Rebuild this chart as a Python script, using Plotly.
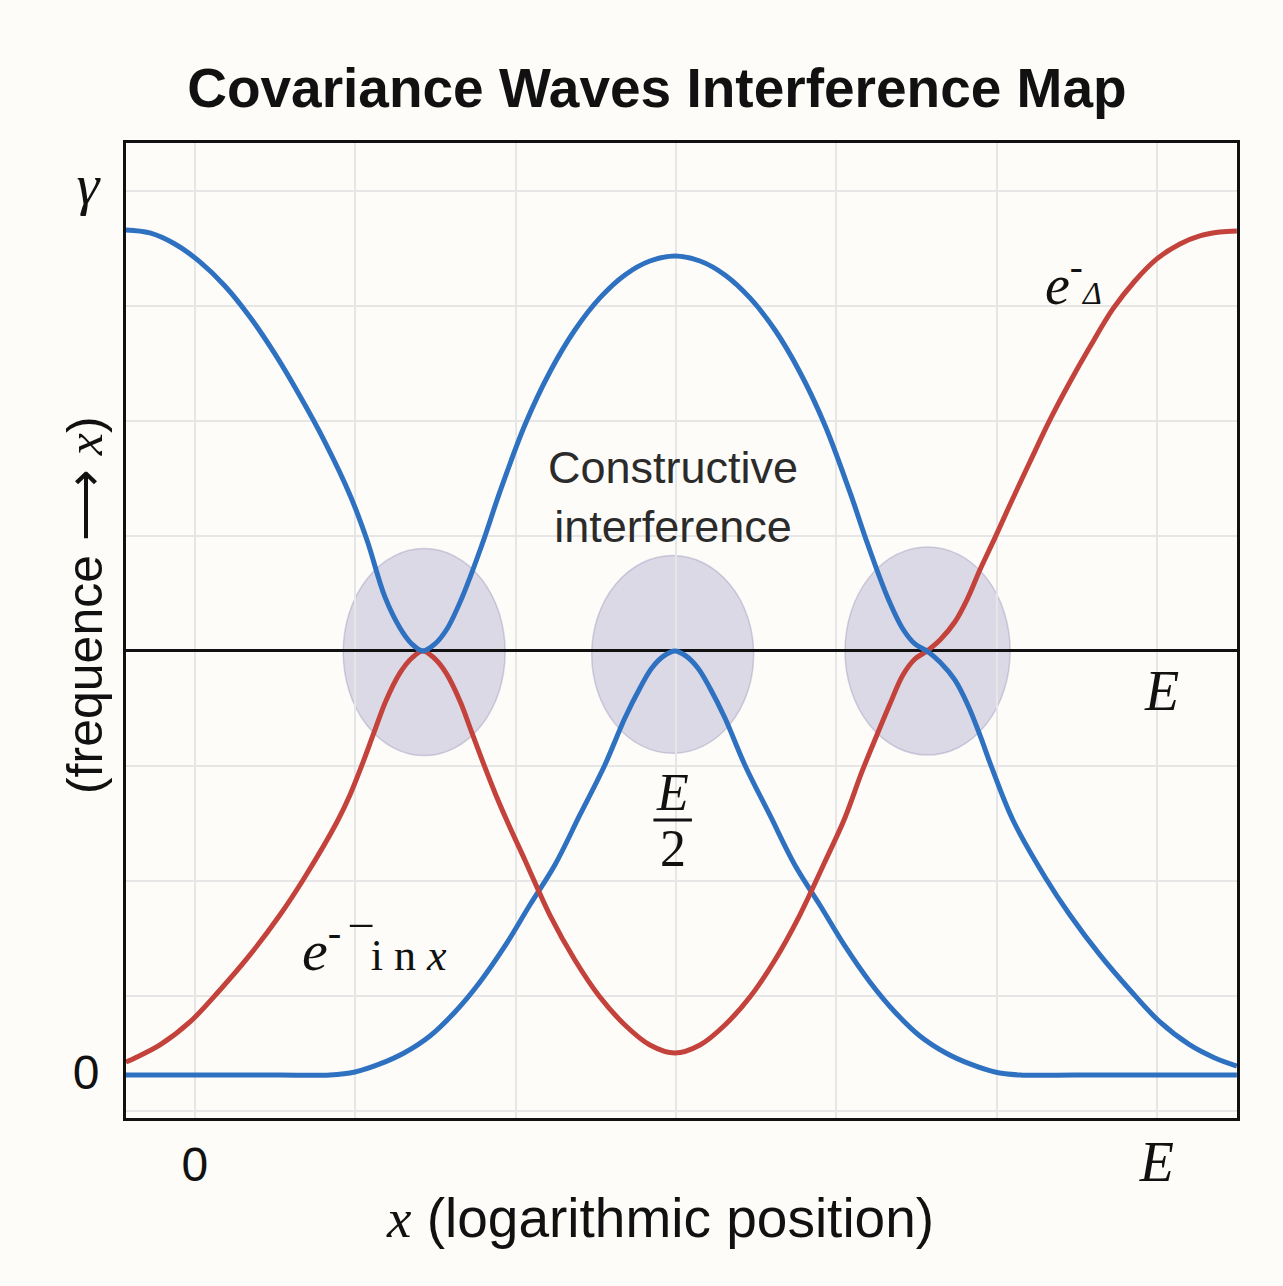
import plotly.graph_objects as go

# ---------------- data ----------------
blue_wave_x = [-0.430, -0.281, -0.125, 0.031, 0.187, 0.343, 0.499, 0.655, 0.811, 0.967,
               1.073, 1.185, 1.279, 1.353, 1.422, 1.497, 1.572, 1.665, 1.790, 1.902,
               2.058, 2.214, 2.370, 2.526, 2.682, 2.838, 2.994, 3.150, 3.306, 3.462,
               3.618, 3.773, 3.929, 4.085, 4.198, 4.322, 4.416, 4.491, 4.566, 4.647,
               4.740, 4.821, 4.896, 4.971, 5.102, 5.302, 5.458, 5.645, 5.832, 6.019,
               6.206, 6.362, 6.499]
blue_wave_y = [3.661, 3.635, 3.539, 3.383, 3.174, 2.904, 2.583, 2.217, 1.817, 1.357,
               0.965, 0.470, 0.200, 0.061, 0.000, 0.061, 0.191, 0.461, 0.922, 1.383,
               1.965, 2.426, 2.791, 3.070, 3.270, 3.391, 3.435, 3.391, 3.270, 3.070,
               2.791, 2.426, 1.965, 1.383, 0.922, 0.461, 0.191, 0.061, 0.000, -0.096,
               -0.252, -0.470, -0.730, -1.017, -1.470, -1.965, -2.296, -2.643, -2.948, -3.226,
               -3.426, -3.539, -3.609]

red_wave_x = [-0.430, -0.374, -0.218, -0.031, 0.156, 0.343, 0.530, 0.686, 0.886, 0.967,
              1.042, 1.116, 1.191, 1.279, 1.353, 1.422, 1.491, 1.566, 1.653, 1.728,
              1.803, 1.877, 1.958, 2.058, 2.214, 2.370, 2.526, 2.682, 2.838, 2.994,
              3.150, 3.306, 3.462, 3.618, 3.773, 3.929, 4.054, 4.160, 4.254, 4.335,
              4.416, 4.491, 4.566, 4.647, 4.740, 4.821, 4.896, 4.990, 5.083, 5.208,
              5.333, 5.458, 5.582, 5.726, 5.863, 6.000, 6.144, 6.268, 6.393, 6.499]
red_wave_y = [-3.574, -3.539, -3.426, -3.226, -2.948, -2.643, -2.296, -1.965, -1.487, -1.252,
              -0.991, -0.713, -0.435, -0.191, -0.061, 0.000, -0.061, -0.191, -0.435, -0.713,
              -0.991, -1.252, -1.513, -1.817, -2.296, -2.687, -3.009, -3.252, -3.426, -3.496,
              -3.426, -3.252, -3.009, -2.687, -2.296, -1.835, -1.452, -1.052, -0.730, -0.461,
              -0.209, -0.070, 0.000, 0.096, 0.252, 0.461, 0.704, 0.983, 1.270, 1.643,
              2.009, 2.339, 2.643, 2.974, 3.217, 3.409, 3.539, 3.609, 3.643, 3.652]

bell_x = [-0.430, -0.100, 0.218, 0.530, 0.842, 0.998, 1.154, 1.304, 1.466, 1.622,
          1.778, 1.934, 2.089, 2.245, 2.401, 2.557, 2.682, 2.776, 2.850, 2.925,
          2.994, 3.062, 3.137, 3.212, 3.306, 3.430, 3.586, 3.742, 3.898, 4.054,
          4.210, 4.366, 4.522, 4.684, 4.834, 4.990, 5.146, 5.490, 5.832, 6.170, 6.499]
bell_y = [-3.687, -3.687, -3.687, -3.687, -3.687, -3.661, -3.591, -3.496, -3.348, -3.139,
          -2.878, -2.565, -2.209, -1.861, -1.426, -0.991, -0.583, -0.322, -0.148, -0.043,
          0.000, -0.043, -0.148, -0.322, -0.583, -0.991, -1.426, -1.861, -2.209, -2.565,
          -2.878, -3.139, -3.348, -3.496, -3.591, -3.661, -3.687, -3.687, -3.687, -3.687, -3.687]

# interference zones (centred on the wave crossings)
zone_x = [1.43, 2.98, 4.57]
zone_y = [-0.01, -0.03, 0.00]

x_tick_vals = [0, 6]
x_tick_text = ["0", "E"]
y_tick_vals = [-3.66, 4.03]
y_tick_text = ["0", "γ"]

# ---------------- styling ----------------
BLUE = "#2f71c1"
RED = "#c3433c"
BG = "#fdfcf8"
GRID = "#e6e6e6"
SANS = "Liberation Sans, Arial, sans-serif"
SERIF = "Liberation Serif, Times New Roman, serif"
LW = 5

zone_half_w = [0.505, 0.505, 0.515]
zone_half_h = [0.90, 0.86, 0.905]

fig = go.Figure()

for xs, ys, col in [(bell_x, bell_y, BLUE), (red_wave_x, red_wave_y, RED),
                    (blue_wave_x, blue_wave_y, BLUE)]:
    fig.add_trace(go.Scatter(x=xs, y=ys, mode="lines",
                             line=dict(color=col, width=LW, shape="spline", smoothing=1.0),
                             hoverinfo="skip"))

shapes = []
for cx, cy, hw, hh in zip(zone_x, zone_y, zone_half_w, zone_half_h):
    shapes.append(dict(type="circle", xref="x", yref="y",
                       x0=cx - hw, x1=cx + hw, y0=cy - hh, y1=cy + hh,
                       fillcolor="rgba(159,152,197,0.35)",
                       line=dict(color="rgba(150,145,185,0.4)", width=1.5),
                       layer="below"))
# fraction bar of E/2
shapes.append(dict(type="line", xref="x", yref="y", x0=2.86, x1=3.10, y0=-1.47, y1=-1.47,
                   line=dict(color="#111", width=3), layer="above"))


def serif(t, size=None, italic=True):
    s = f'<span style="font-family:{SERIF}'
    if size:
        s += f';font-size:{size}px'
    s += '">'
    return s + (f"<i>{t}</i>" if italic else t) + "</span>"


annotations = [
    dict(x=2.98, y=1.34, xref="x", yref="y", text="Constructive<br>interference",
         showarrow=False, font=dict(family=SANS, size=45, color="#2b2b2b")),
    dict(x=2.98, y=-1.23, xref="x", yref="y", text="<i>E</i>", showarrow=False,
         font=dict(family=SERIF, size=52, color="#111")),
    dict(x=2.98, y=-1.72, xref="x", yref="y", text="2", showarrow=False,
         font=dict(family=SERIF, size=52, color="#111")),
    dict(x=6.03, y=-0.35, xref="x", yref="y", text="<i>E</i>", showarrow=False,
         font=dict(family=SERIF, size=56, color="#111")),
    dict(x=1.12, y=-2.57, xref="x", yref="y",
         text='<i>e</i><sup>- </sup>‾<span style="font-size:44px">i n <i>x</i></span>',
         showarrow=False, font=dict(family=SERIF, size=58, color="#111")),
    dict(x=5.48, y=3.22, xref="x", yref="y",
         text='<i>e</i><sup>-</sup><span style="font-size:32px"><i>Δ</i></span>',
         showarrow=False, font=dict(family=SERIF, size=56, color="#111")),
    # axis titles
    dict(x=0.4806, y=-0.1026, xref="paper", yref="paper", xanchor="center", yanchor="middle",
         text=serif("x") + " (logarithmic position)", showarrow=False,
         font=dict(family=SANS, size=55, color="#111")),
    dict(x=-0.037, y=0.526, xref="paper", yref="paper", xanchor="center", yanchor="middle",
         textangle=-90,
         text="(frequence ⟶ " + serif("x") + ")", showarrow=False,
         font=dict(family=SANS, size=50, color="#111")),
]

fig.update_layout(
    width=1283, height=1286,
    margin=dict(l=126, r=46, t=143, b=168),
    paper_bgcolor=BG, plot_bgcolor=BG,
    showlegend=False,
    title=dict(text="<b>Covariance Waves Interference Map</b>",
               x=0.512, y=1 - 88 / 1286, xanchor="center", yanchor="middle",
               font=dict(family=SANS, size=55, color="#111")),
    shapes=shapes,
    annotations=annotations,
    xaxis=dict(range=[-0.43, 6.50], tickmode="array", tickvals=x_tick_vals,
               ticktext=[x_tick_text[0], serif(x_tick_text[1], 56)],
               tickfont=dict(family=SANS, size=48, color="#111"),
               ticks="outside", ticklen=2, tickcolor="rgba(0,0,0,0)",
               showgrid=True, gridcolor=GRID, gridwidth=1.5,
               minor=dict(tickmode="linear", tick0=0, dtick=1, showgrid=True,
                          gridcolor=GRID, gridwidth=1.5, ticks=""),
               zeroline=False,
               showline=True, mirror=True, linecolor="#111", linewidth=3),
    yaxis=dict(range=[-4.061, 4.417], tickmode="array", tickvals=y_tick_vals,
               ticktext=[y_tick_text[0], serif(y_tick_text[1], 58)],
               tickfont=dict(family=SANS, size=48, color="#111"),
               ticks="outside", ticklen=14, tickcolor="rgba(0,0,0,0)",
               showgrid=False,
               minor=dict(tickmode="linear", tick0=0, dtick=1, showgrid=True,
                          gridcolor=GRID, gridwidth=1.5, ticks=""),
               zeroline=True, zerolinecolor="#111", zerolinewidth=2.5,
               showline=True, mirror=True, linecolor="#111", linewidth=3),
)

fig.write_html("out.html", config={"displayModeBar": False},
               post_script="document.body.style.margin='0';")
